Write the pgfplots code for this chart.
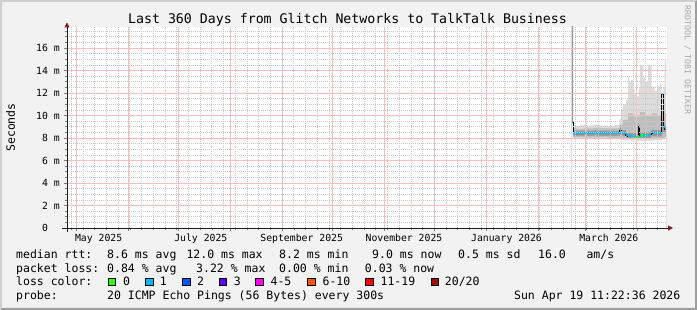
\documentclass[border=0pt]{standalone}
\usepackage{fontspec}
\setmainfont{DejaVu Sans Mono}
\usepackage{pgfplots}
\pgfplotsset{compat=1.18}
\usepackage{pgfplotstable}
\usetikzlibrary{arrows.meta}

\definecolor{bgc}{HTML}{F2F2F2}
\definecolor{shA}{HTML}{CFCFCF}
\definecolor{shB}{HTML}{9E9E9E}
\definecolor{mgridc}{HTML}{F6BEBE}
\definecolor{ngridc}{HTML}{C8C8C8}
\definecolor{arrowc}{RGB}{128,31,31}
\definecolor{axisc}{HTML}{1F1F1F}
\definecolor{smokeL}{HTML}{DCDCDC}
\definecolor{smokeM}{HTML}{BEBEBE}
\definecolor{smokeD}{HTML}{9A9A9A}
\definecolor{lc0}{HTML}{26FF00}
\definecolor{lc1}{HTML}{00B8FF}
\definecolor{lc2}{HTML}{0059FF}
\definecolor{lc3}{HTML}{5E00FF}
\definecolor{lc4}{HTML}{FF00FF}
\definecolor{lc6}{HTML}{FF5500}
\definecolor{lc11}{HTML}{FF0000}
\definecolor{lc20}{HTML}{A01000}
\definecolor{wmc}{HTML}{A8A8A8}
\pagecolor{bgc}

\newcommand\legf{\fontsize{11.5bp}{13bp}\selectfont}
\newcommand\ttlf{\fontsize{13.25bp}{15bp}\selectfont}
\newcommand\tkf{\fontsize{9.8bp}{11bp}\selectfont}
\newcommand\wmf{\fontsize{8.3bp}{9bp}\selectfont}

% median RTT (ms) per step, x = days from the graph start
\pgfplotstableread{
day ms
302.8 9.45
303.6 8.42
305.0 8.33
306.5 8.42
316.5 8.50
317.5 8.42
331.6 8.65
332.4 8.45
335.3 8.27
336.4 8.18
341.5 8.12
342.3 8.18
343.1 9.00
343.7 8.22
346.5 8.27
347.9 8.22
348.6 8.30
350.6 8.50
351.4 8.42
356.9 11.88
357.8 9.00
358.6 8.77
359.4 8.77
}\median

\pgfplotstableread{
day lo hi
302.8 9.30 9.30
303.4 7.95 9.10
306.0 7.95 9.05
308.0 7.95 9.15
312.0 7.95 9.10
316.0 7.95 9.20
320.0 7.95 9.10
325.0 7.90 9.10
329.0 7.90 9.15
331.5 7.85 9.70
332.5 7.85 10.50
333.5 7.80 11.00
335.4 7.80 11.40
336.6 7.80 13.40
337.4 7.80 13.00
338.5 7.80 13.15
339.8 7.80 12.30
340.6 7.80 12.00
341.8 7.75 11.70
343.0 7.75 12.40
343.8 7.75 14.50
345.8 7.75 13.40
347.0 7.75 13.00
348.6 7.75 14.50
350.8 7.80 12.60
352.5 7.80 12.20
354.2 7.80 12.60
355.5 7.80 12.80
356.8 7.85 11.90
357.8 7.90 12.50
358.6 8.00 14.90
359.4 8.00 14.90
}\lightsmoke

\pgfplotstableread{
day lo hi
302.8 9.30 9.30
303.4 8.05 8.85
306.0 8.05 8.80
310.0 8.05 8.85
316.0 8.05 8.90
320.0 8.05 8.85
325.0 8.00 8.85
331.5 7.95 9.20
333.5 7.90 9.60
336.6 7.90 10.20
339.8 7.90 9.90
343.8 7.90 10.30
347.0 7.90 10.00
350.8 7.95 10.20
354.2 7.95 10.00
356.8 8.00 10.40
358.6 8.10 10.20
359.4 8.10 10.20
}\medsmoke

\pgfplotstableread{
day lo hi
302.8 9.30 20.00
303.6 8.20 8.65
316.5 8.25 8.70
317.5 8.20 8.65
331.6 8.30 8.90
332.4 8.20 8.70
335.3 8.05 8.50
336.4 8.00 8.45
341.5 7.95 8.40
343.1 8.00 9.20
343.7 8.00 8.50
350.6 8.20 8.75
351.4 8.15 8.70
356.9 8.40 9.60
357.8 8.50 9.30
358.6 8.40 9.10
359.4 8.40 9.10
}\darksmoke

\begin{document}
\begin{tikzpicture}
\useasboundingbox (0bp,0bp) rectangle (697bp,310bp);
\fill[shA] (0bp,0bp) -- (2bp,2bp) -- (2bp,308bp) -- (695bp,308bp) -- (697bp,310bp) -- (0bp,310bp) -- cycle;
\fill[shB] (0bp,0bp) -- (697bp,0bp) -- (697bp,310bp) -- (695bp,308bp) -- (695bp,2bp) -- (2bp,2bp) -- cycle;

\begin{axis}[
  at={(67bp,82bp)}, anchor=south west,
  width=600bp, height=201bp, scale only axis,
  xmin=0, xmax=360, ymin=0, ymax=17.87,
  clip mode=individual,
  axis on top,
  axis lines=left,
  axis line style={axisc, line width=0.8bp},
  every outer x axis line/.append style={-{Triangle[length=5bp,width=5bp,color=arrowc]}, shorten <=-5bp, shorten >=-6bp},
  every outer y axis line/.append style={-{Triangle[length=5bp,width=5bp,color=arrowc]}, shorten <=-4.5bp, shorten >=-4.5bp},
  axis background/.style={fill=white},
  xtick={5.58,36.7,66.8,97.9,129.1,159.2,190.3,220.4,251.5,282.7,310.8,341.9},
  xticklabels={},
  minor xtick={2.568,9.595,...,354},
  ytick={0,2,...,16},
  yticklabels={0\phantom{\ m},2 m,4 m,6 m,8 m,10 m,12 m,14 m,16 m},
  minor ytick={0.5,1.5,...,17.5,1,3,...,17},
  xminorgrids=true, yminorgrids=true,
  minor grid style={draw=ngridc, line width=0.7bp, dash pattern=on 1bp off 1bp},
  tick align=outside,
  major tick length=3bp, minor tick length=2bp,
  tick style={line width=0.6bp},
  ticklabel style={font=\tkf, inner sep=0pt},
  yticklabel style={anchor=east, xshift=-4bp},
  scaled ticks=false,
]
% smoke: nested step bands painted from the outside in
\addplot[fill=smokeL, draw=none, const plot mark left, forget plot] table[x=day,y=hi]{\lightsmoke} \closedcycle;
\addplot[fill=smokeM, draw=none, const plot mark left, forget plot] table[x=day,y=hi]{\medsmoke} \closedcycle;
\addplot[fill=smokeD, draw=none, const plot mark left, forget plot] table[x=day,y=hi]{\darksmoke} \closedcycle;
\addplot[fill=smokeM, draw=none, const plot mark left, forget plot] table[x=day,y=lo]{\darksmoke} \closedcycle;
\addplot[fill=smokeL, draw=none, const plot mark left, forget plot] table[x=day,y=lo]{\medsmoke} \closedcycle;
\addplot[fill=white, draw=none, const plot mark left, forget plot] table[x=day,y=lo]{\lightsmoke} \closedcycle;
% major grid: month starts and every 2 ms
\pgfplotsinvokeforeach{5.58,36.7,66.8,97.9,129.1,159.2,190.3,220.4,251.5,282.7,310.8,341.9}{
  \draw[draw=mgridc, line width=0.9bp] (axis cs:#1,0) -- (axis cs:#1,17.87);
}
\pgfplotsinvokeforeach{2,4,6,8,10,12,14,16}{
  \draw[draw=mgridc, line width=0.9bp] (axis cs:0,#1) -- (axis cs:360,#1);
}
% median
\addplot[black, line width=0.8bp, const plot mark left, mark=none] table[x=day,y=ms]{\median};
\addplot[lc1, line width=2.2bp, jump mark left, mark=none] table[x=day,y=ms]{\median};
\addplot[lc0, line width=2.2bp, mark=none] coordinates {(341.5,8.12) (342.3,8.12)};
\addplot[lc0, line width=2.2bp, mark=none] coordinates {(344.6,8.22) (345.4,8.22)};
\addplot[lc0, line width=2.2bp, mark=none] coordinates {(347.9,8.22) (348.6,8.22)};
% month labels
\begin{scope}[every node/.style={anchor=north, font=\tkf, inner sep=0pt, yshift=-6bp}]
\node at (axis cs:19.0,0) {May 2025};
\node at (axis cs:80.3,0) {July 2025};
\node at (axis cs:140.8,0) {September 2025};
\node at (axis cs:202.2,0) {November 2025};
\node at (axis cs:263.7,0) {January 2026};
\node at (axis cs:325.1,0) {March 2026};
\end{scope}
\end{axis}

% title, labels, watermark
\node[anchor=base, font=\ttlf, inner sep=0pt] at (347.5bp,286bp) {Last 360 Days from Glitch Networks to TalkTalk Business};
\node[rotate=90, font=\legf, inner sep=0pt] at (10.5bp,182.5bp) {Seconds};
\node[rotate=-90, font=\wmf, text=wmc, inner sep=0pt] at (687.5bp,250bp) {RRDTOOL / TOBI OETIKER};

% legend
\begin{scope}[every node/.style={anchor=base west, font=\legf, inner sep=0pt}]
\node at (16bp,51.3bp) {median rtt:};
\node at (107bp,51.3bp) {8.6 ms avg};
\node at (186.3bp,51.3bp) {12.0 ms max};
\node at (279bp,51.3bp) {8.2 ms min};
\node at (372bp,51.3bp) {9.0 ms now};
\node at (458bp,51.3bp) {0.5 ms sd};
\node at (538bp,51.3bp) {16.0};
\node at (586.3bp,51.3bp) {am/s};

\node at (16bp,37.8bp) {packet loss:};
\node at (107bp,37.8bp) {0.84 \% avg};
\node at (196bp,37.8bp) {3.22 \% max};
\node at (279bp,37.8bp) {0.00 \% min};
\node at (364.7bp,37.8bp) {0.03 \% now};

\node at (16bp,24.3bp) {loss color:};
\node at (123bp,24.3bp) {0};
\node at (159.7bp,24.3bp) {1};
\node at (197bp,24.3bp) {2};
\node at (233.7bp,24.3bp) {3};
\node at (270.4bp,24.3bp) {4-5};
\node at (322.4bp,24.3bp) {6-10};
\node at (380.4bp,24.3bp) {11-19};
\node at (444.7bp,24.3bp) {20/20};

\node at (16bp,10.8bp) {probe:};
\node at (107bp,10.8bp) {20 ICMP Echo Pings (56 Bytes) every 300s};
\end{scope}
\node[anchor=base east, font=\legf, inner sep=0pt] at (680.5bp,10.8bp) {Sun Apr 19 11:22:36 2026};

\begin{scope}[line width=0.8bp]
\filldraw[fill=lc0, draw=black] (108.3bp,24.2bp) rectangle (115.7bp,31.7bp);
\filldraw[fill=lc1, draw=black] (145.7bp,24.2bp) rectangle (153bp,31.7bp);
\filldraw[fill=lc2, draw=black] (182.7bp,24.2bp) rectangle (190bp,31.7bp);
\filldraw[fill=lc3, draw=black] (219bp,24.2bp) rectangle (226.7bp,31.7bp);
\filldraw[fill=lc4, draw=black] (255.7bp,24.2bp) rectangle (263.3bp,31.7bp);
\filldraw[fill=lc6, draw=black] (307.3bp,24.2bp) rectangle (315bp,31.7bp);
\filldraw[fill=lc11, draw=black] (365.7bp,24.2bp) rectangle (373.3bp,31.7bp);
\filldraw[fill=lc20, draw=black] (431bp,24.2bp) rectangle (438.3bp,31.7bp);
\end{scope}
\end{tikzpicture}
\end{document}
